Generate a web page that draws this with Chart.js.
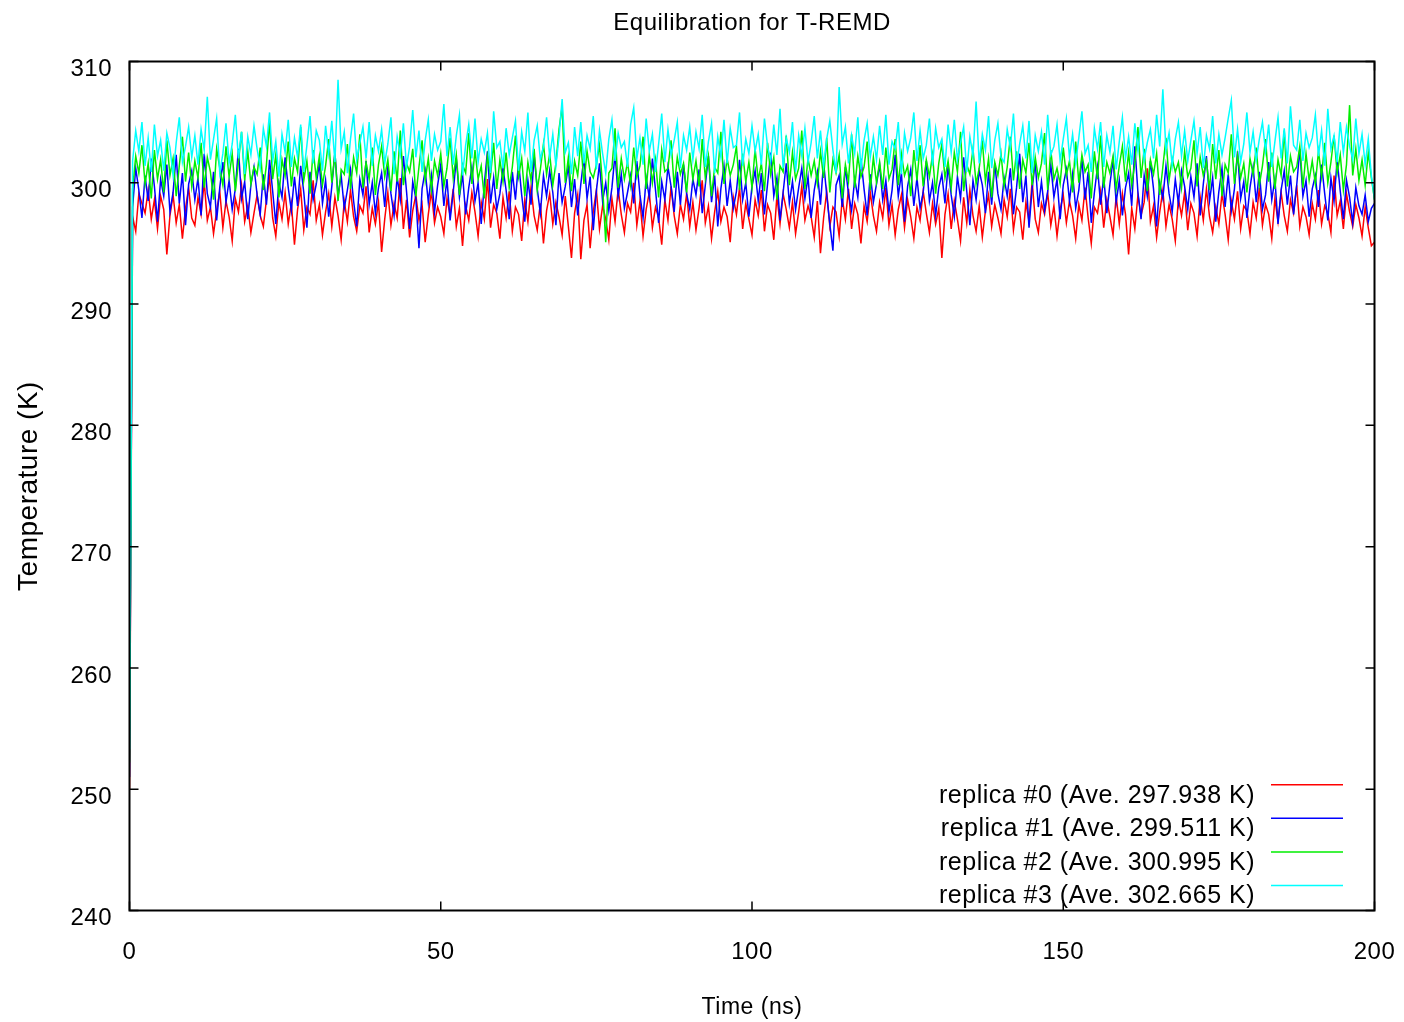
<!DOCTYPE html>
<html>
<head>
<meta charset="utf-8">
<script src="https://cdn.jsdelivr.net/npm/chart.js@4.4.1/dist/chart.umd.min.js"></script>
<style>
html,body{margin:0;padding:0;background:#fff;overflow:hidden;}
#wrap{width:1404px;height:1022px;position:relative;}
</style>
</head>
<body>
<div id="wrap"><canvas id="c"></canvas></div>
<script>
const TIME_STEP_NS = 0.5;
const xTicks = [0, 50, 100, 150, 200];
const yTicks = [240, 250, 260, 270, 280, 290, 300, 310];
const seriesLabels = [
  'replica #0 (Ave. 297.938 K)',
  'replica #1 (Ave. 299.511 K)',
  'replica #2 (Ave. 300.995 K)',
  'replica #3 (Ave. 302.665 K)'
];
const seriesColors = ['#ff0000', '#0000ff', '#00ee00', '#00ffff'];

const replica0 = [250.0,
297.2,296.0,299.1,298.3,297.5,299.4,297.0,298.6,296.2,298.9,297.8,294.1,297.3,299.0,296.7,298.2,295.4,297.9,299.6,297.1,
296.5,298.8,297.4,300.1,296.9,298.0,295.8,297.7,299.3,296.3,298.5,297.2,295.2,298.7,297.6,299.8,296.8,298.1,295.9,297.5,
299.0,297.3,296.4,298.6,300.5,297.1,295.6,298.4,297.0,299.2,296.6,298.3,294.9,297.8,299.5,296.1,298.0,297.4,300.2,296.9,
298.2,295.7,297.6,299.1,296.4,298.8,297.3,295.3,298.5,296.8,299.4,297.2,296.0,298.1,297.5,299.7,295.9,297.9,296.6,298.4,
294.3,297.0,299.2,296.5,298.3,297.1,300.4,296.2,298.6,295.5,297.7,299.0,296.9,298.2,295.1,297.4,299.3,296.7,298.0,297.2,
295.8,298.7,297.3,299.5,296.4,297.9,294.8,298.1,296.9,299.2,297.6,295.6,298.4,297.0,300.3,296.3,298.2,297.5,295.4,298.8,
297.1,299.3,296.0,298.0,297.4,295.2,298.6,296.8,299.6,297.3,296.1,298.3,295.0,297.7,299.1,296.6,298.4,297.2,295.7,298.9,
296.4,293.8,297.5,299.0,293.7,296.9,298.2,294.6,297.6,299.4,296.2,298.1,297.0,295.3,298.7,296.8,299.5,297.4,295.9,298.3,
297.6,300.0,296.5,298.5,295.6,297.8,299.2,296.3,298.0,297.1,294.9,298.6,296.9,299.7,297.3,295.8,298.2,297.0,299.1,296.4,
298.4,296.1,297.9,300.2,296.7,298.1,295.4,297.6,299.3,296.8,298.0,297.2,295.1,298.8,297.4,299.6,296.2,298.3,297.0,295.7,
298.6,297.3,299.4,296.0,298.2,297.5,295.3,298.9,296.6,299.1,297.8,296.3,298.4,295.8,297.6,299.7,296.9,298.1,297.2,295.5,
298.5,294.2,297.1,299.3,296.4,298.0,297.6,295.6,298.7,297.0,299.5,296.2,298.3,297.4,295.0,298.1,296.8,299.2,297.3,296.0,
298.4,297.1,299.6,296.5,298.2,295.7,297.8,299.0,296.3,298.6,297.2,295.4,298.0,296.9,299.3,297.5,295.9,298.3,296.6,297.9,
293.8,297.4,299.1,296.2,298.5,297.0,295.2,298.8,296.7,299.4,297.3,296.0,298.1,295.5,297.7,299.0,296.4,298.2,297.1,295.8,
298.6,297.2,299.5,296.1,298.0,297.6,295.3,298.4,296.8,300.1,297.0,295.9,298.3,297.4,299.2,296.5,298.1,295.6,297.8,299.0,
296.7,298.5,297.3,295.4,298.2,296.9,299.6,297.1,295.0,298.0,297.5,299.3,296.3,298.6,297.2,295.7,298.9,296.6,299.1,297.4,
294.1,297.9,296.2,299.0,297.3,298.4,301.2,296.8,298.1,295.5,297.6,299.4,296.4,298.2,297.0,295.2,298.7,297.3,299.2,296.1,
298.3,297.5,295.6,298.8,296.9,299.5,297.2,295.9,298.0,296.6,299.1,297.4,295.3,298.5,297.0,299.3,296.2,298.1,297.7,295.8,
298.4,297.1,299.6,296.5,298.2,297.4,295.4,298.7,296.8,299.2,297.3,296.0,298.6,297.5,299.8,296.4,298.0,297.2,295.7,298.3,
297.0,299.4,296.6,298.1,297.5,295.9,300.6,297.3,298.5,296.2,299.1,297.6,296.4,298.2,297.1,295.6,298.0,296.3,294.8,295.1];

const replica1 = [251.0,
298.0,301.2,299.4,297.1,300.6,298.5,302.0,299.7,296.8,300.3,298.9,301.5,297.6,299.2,302.3,298.3,300.8,296.5,299.9,301.0,
298.6,300.4,297.3,302.4,299.1,298.0,300.9,296.9,299.6,301.7,298.4,300.2,297.8,299.5,302.8,298.7,300.1,297.0,299.8,301.3,
299.0,297.4,300.7,298.2,301.9,299.3,296.6,300.0,298.8,302.1,299.6,297.7,300.5,298.1,301.4,299.2,296.3,300.9,298.6,299.9,
301.6,298.3,300.2,297.2,299.7,302.5,298.9,300.6,297.9,299.4,301.1,298.5,296.4,300.3,299.0,301.8,298.2,300.0,297.5,299.6,
300.8,298.0,301.4,299.1,297.3,300.5,298.6,302.2,299.3,296.2,300.1,298.7,294.6,299.5,301.0,298.4,300.6,297.6,299.8,301.5,
298.1,300.3,296.9,299.2,302.0,298.8,300.7,297.4,299.6,301.3,298.5,300.0,296.6,299.9,302.6,298.3,300.4,297.8,299.1,301.2,
299.4,297.0,300.9,298.6,301.7,299.0,296.8,300.2,298.2,302.3,299.5,297.5,300.6,298.9,301.0,299.2,296.5,300.8,298.4,299.7,
301.4,298.0,300.3,297.3,299.9,302.1,298.7,300.5,296.1,299.3,301.6,298.5,300.0,297.7,299.6,302.4,298.9,300.7,297.9,299.2,
300.6,298.3,301.8,299.0,297.1,300.4,298.8,302.0,299.4,296.7,300.1,298.6,301.3,299.7,297.6,300.9,298.2,301.5,299.1,297.8,
300.3,299.0,301.1,297.5,299.8,302.2,298.4,300.6,296.4,299.5,301.4,298.1,300.2,297.9,299.3,301.9,298.6,300.0,297.2,299.7,
301.0,298.5,300.8,297.4,299.9,302.5,298.9,300.4,296.9,299.2,301.6,298.3,300.1,297.8,299.6,301.2,298.7,300.5,297.1,299.4,
300.9,298.2,301.7,299.0,296.6,294.4,299.8,300.6,298.0,301.3,299.1,297.7,300.3,298.8,302.0,299.5,297.3,300.7,298.4,299.9,
301.5,298.6,300.2,297.6,299.4,302.3,298.9,300.8,296.8,299.7,301.1,298.1,300.4,297.9,299.2,301.8,298.5,300.0,297.3,299.6,
300.7,298.3,301.4,299.0,297.2,300.5,298.7,302.1,299.3,296.5,300.2,298.6,301.0,299.8,297.5,300.9,298.2,301.6,299.1,297.8,
300.4,298.9,301.2,297.4,299.6,302.4,298.4,300.6,296.3,299.5,301.7,298.0,300.1,297.7,299.3,301.5,298.8,300.3,297.0,299.8,
301.1,298.5,300.7,297.9,299.4,302.0,298.6,300.9,296.7,299.2,301.3,298.2,300.5,297.5,299.9,301.9,298.4,300.2,297.3,299.6,
300.8,298.1,303.0,299.2,297.0,300.6,298.9,301.8,299.5,296.4,300.0,298.7,301.4,299.1,297.6,300.3,298.3,301.0,299.7,297.8,
300.5,298.8,301.6,297.3,299.9,302.2,298.5,300.4,296.8,299.3,301.2,298.0,300.7,297.7,299.5,302.6,298.7,300.1,297.1,299.6,
301.3,298.4,300.9,297.8,299.0,301.7,298.6,300.3,296.6,299.4,301.0,298.2,300.6,297.4,299.8,302.8,298.9,300.2,297.2,299.5,
300.6,298.0,301.5,299.1,296.9,300.4,298.5,301.9,299.3,297.0,300.2,298.8,296.7,299.6,298.1,297.4,299.0,296.8,297.9,298.3];

const replica2 = [252.2,
299.5,302.2,300.8,303.1,299.9,301.6,298.7,302.7,300.3,301.9,299.2,303.5,300.6,302.0,298.9,301.4,303.8,300.1,302.5,299.7,
301.8,300.4,303.3,299.6,302.1,300.9,298.6,302.8,301.2,299.8,303.0,300.5,302.4,299.3,301.7,304.2,300.2,302.6,299.9,301.3,
300.7,302.9,299.4,301.5,305.1,300.3,302.3,298.8,301.9,300.6,303.4,299.7,302.0,300.9,304.6,300.2,301.8,299.1,302.7,300.4,
302.2,299.8,301.4,303.6,300.0,302.5,298.5,301.1,300.7,303.2,299.5,302.1,300.8,304.0,299.6,301.7,300.3,302.9,299.0,301.5,
303.0,300.5,301.9,299.3,302.6,300.1,304.3,299.8,301.6,300.9,302.8,298.9,301.3,303.5,300.2,302.0,299.4,301.8,300.6,302.4,
299.7,301.2,303.7,300.4,302.3,299.0,301.5,300.8,304.1,299.9,302.7,300.3,301.4,298.7,302.2,300.6,303.3,299.5,301.9,300.1,
302.5,299.6,301.3,303.9,300.5,302.0,298.9,301.7,300.2,302.8,299.4,301.1,303.2,300.7,302.4,299.8,301.6,304.4,306.3,300.0,
302.1,299.3,301.8,300.6,303.4,299.9,302.6,300.9,300.4,301.5,303.1,299.7,295.1,300.8,301.2,304.5,299.6,302.0,300.3,301.7,
299.8,302.9,300.5,301.4,303.8,299.5,302.3,300.0,301.9,298.8,302.7,300.9,301.2,303.5,299.6,302.1,300.7,301.6,299.2,302.5,
300.3,301.8,299.7,303.6,300.4,302.2,298.9,301.3,300.8,304.2,299.9,302.0,300.6,301.5,303.0,299.4,302.4,300.1,301.7,299.6,
302.8,300.2,301.6,299.3,303.3,300.7,302.1,298.6,301.4,300.9,303.9,299.8,302.5,300.3,301.2,304.3,299.5,302.0,300.6,301.8,
299.9,302.6,300.4,303.7,299.2,301.9,300.8,302.3,298.7,301.5,300.1,304.0,299.6,302.2,300.5,301.3,303.4,299.4,302.1,300.0,
301.7,299.5,302.9,300.3,301.1,303.6,299.8,302.4,300.6,301.4,298.9,302.7,300.2,303.1,299.7,301.9,300.5,302.3,299.1,301.6,
303.2,300.4,301.8,299.6,302.5,300.9,304.2,299.3,301.5,300.7,302.8,299.9,301.2,303.5,300.1,302.0,298.8,301.7,300.6,302.4,
299.7,301.3,303.8,300.2,302.6,299.5,301.9,300.8,303.3,299.8,302.1,300.4,301.6,304.1,299.4,302.7,300.3,301.2,299.9,302.9,
300.6,301.8,299.2,303.4,300.0,302.3,300.9,301.5,298.7,302.6,300.3,303.9,299.6,301.7,300.8,302.2,299.5,301.4,303.0,300.1,
302.5,299.8,301.6,304.6,300.4,302.8,299.3,301.9,300.7,302.4,299.0,301.3,303.7,300.2,302.0,300.9,301.7,299.6,302.6,300.5,
301.2,303.5,299.7,302.1,300.6,301.8,299.4,303.2,300.3,302.7,298.9,301.5,300.8,304.0,299.9,302.3,300.4,301.6,299.2,302.0,
300.7,302.9,299.8,301.4,303.6,300.1,302.5,299.5,301.9,300.6,304.3,299.7,302.2,300.9,301.3,303.0,299.6,302.4,300.2,301.8,
299.9,302.6,300.5,303.3,300.0,301.7,303.9,300.8,302.3,299.4,301.5,306.4,300.6,302.8,300.2,301.9,299.8,302.5,300.4,298.6];

const replica3 = [253.3,
301.8,304.3,302.6,305.0,301.4,303.7,300.9,304.8,302.2,303.5,301.0,304.1,302.9,300.6,303.3,305.4,301.7,303.0,304.6,302.1,
303.9,301.5,304.4,302.7,307.1,301.9,303.6,305.3,300.8,302.4,304.9,301.6,303.2,305.6,302.0,304.2,300.7,303.8,302.3,304.7,
302.8,301.2,304.5,303.0,305.8,301.8,303.4,300.5,304.0,302.5,305.2,301.3,303.7,302.1,304.8,300.9,303.1,305.5,301.6,304.3,
303.5,301.0,304.7,302.4,305.1,301.7,308.5,302.8,304.2,300.8,303.6,305.7,301.9,303.3,304.6,302.0,305.0,301.4,303.9,302.6,
304.4,301.6,303.2,305.4,300.7,303.8,302.3,304.9,301.3,303.0,306.0,302.1,304.3,300.9,303.5,305.2,301.8,304.0,302.7,303.4,
306.5,302.2,304.6,301.5,303.9,305.6,300.6,303.1,304.8,302.0,305.3,301.7,303.6,302.5,304.1,300.8,305.9,302.9,303.4,301.2,
304.5,302.3,303.7,305.1,301.0,304.2,302.6,305.8,300.9,303.5,304.7,301.9,303.0,305.4,302.1,304.0,301.4,303.8,306.9,302.5,
303.3,300.7,304.6,302.2,305.0,301.6,303.9,302.8,305.5,301.1,304.3,302.4,300.8,303.6,305.2,301.8,304.1,302.9,303.4,301.3,
304.8,306.2,302.0,303.7,301.5,305.3,302.6,304.0,300.9,303.2,305.7,301.7,304.4,302.3,303.5,305.0,301.2,303.9,302.7,304.6,
301.9,304.2,302.8,305.6,301.3,303.4,304.9,300.8,303.8,302.1,305.2,301.6,304.5,302.9,303.1,305.8,301.4,303.6,302.4,304.7,
302.6,304.0,301.5,305.3,303.0,301.8,304.8,302.3,306.1,301.2,303.7,302.5,305.0,300.9,303.9,302.2,304.5,301.7,303.3,305.5,
302.0,304.3,301.4,303.6,305.1,302.7,300.8,307.9,303.2,304.6,301.6,303.9,302.4,305.4,301.1,303.5,304.9,302.1,303.8,301.9,
304.7,302.3,305.6,301.5,303.4,302.8,305.0,300.7,304.1,302.6,303.7,305.8,301.8,304.3,302.0,303.1,305.3,301.4,304.5,302.9,
303.6,301.3,304.8,302.5,305.2,301.9,303.3,304.6,300.9,303.8,302.2,306.7,301.6,304.0,302.7,305.5,301.2,303.5,304.9,302.1,
301.7,304.4,302.9,305.7,301.4,303.2,304.7,302.0,305.1,300.8,303.9,302.6,304.2,301.5,305.6,302.3,303.0,304.8,301.8,303.6,
305.3,302.1,304.0,301.6,303.7,305.9,302.4,303.1,300.9,304.5,302.8,305.0,301.3,303.9,302.5,304.7,301.1,303.4,305.4,302.0,
303.8,301.5,304.9,302.6,305.2,301.9,303.3,304.4,302.0,305.6,303.0,307.7,302.7,304.1,301.4,303.6,305.0,302.2,304.3,301.8,
303.5,305.1,302.4,304.6,301.2,303.9,302.8,305.5,301.6,304.0,302.3,303.7,305.3,306.8,302.1,304.4,301.7,303.2,305.8,302.5,
304.2,301.9,303.6,305.0,302.6,304.8,301.3,303.4,305.4,302.0,304.5,301.6,306.3,303.1,302.7,305.2,301.8,304.1,302.9,303.7,
305.6,302.2,304.3,301.4,306.1,302.8,303.9,301.7,305.0,302.5,304.6,303.0,301.9,305.3,302.4,304.0,301.5,303.6,300.6,298.6];

const seriesValues = [replica0, replica1, replica2, replica3];

// sampling grid of the time axis (ns)
const times = replica0.map((_, i) => i * TIME_STEP_NS);

const FONT = 'Liberation Sans, Arial, Helvetica, sans-serif';

const datasets = seriesValues.map((vals, k) => ({
  label: seriesLabels[k],
  data: vals.map((v, i) => ({x: times[i], y: v})),
  borderColor: seriesColors[k],
  backgroundColor: seriesColors[k],
  borderWidth: 1.5,
  pointRadius: 0,
  tension: 0,
  fill: false,
  order: 3 - k
}));

const spacingPlugin = {
  id: 'spacing',
  beforeUpdate(chart) { chart.ctx.letterSpacing = '0.5px'; },
  beforeDraw(chart) { chart.ctx.letterSpacing = '0.5px'; }
};

const framePlugin = {
  id: 'frame',
  afterDatasetsDraw(chart) {
    const {ctx, chartArea: a, scales} = chart;
    const xs = scales.x, ys = scales.y;
    const L = 9;
    ctx.save();
    ctx.strokeStyle = '#000';
    ctx.lineWidth = 1.5;
    ctx.beginPath();
    xTicks.forEach(v => {
      const px = xs.getPixelForValue(v);
      ctx.moveTo(px, a.bottom); ctx.lineTo(px, a.bottom - L);
      ctx.moveTo(px, a.top); ctx.lineTo(px, a.top + L);
    });
    yTicks.forEach(v => {
      const py = ys.getPixelForValue(v);
      ctx.moveTo(a.left, py); ctx.lineTo(a.left + L, py);
      ctx.moveTo(a.right, py); ctx.lineTo(a.right - L, py);
    });
    ctx.stroke();
    ctx.lineWidth = 2;
    ctx.strokeRect(a.left, a.top, a.right - a.left, a.bottom - a.top);

    // key (legend) in the lower right corner of the plot
    ctx.font = '25px ' + FONT;
    ctx.textAlign = 'right';
    ctx.textBaseline = 'middle';
    ctx.fillStyle = '#000';
    chart.data.datasets.forEach((ds, k) => {
      const ly = a.bottom - 125.8 + k * 33.6;
      ctx.fillText(ds.label, a.right - 119.5, ly + 11);
      ctx.strokeStyle = ds.borderColor;
      ctx.lineWidth = 1.5;
      ctx.beginPath();
      ctx.moveTo(a.right - 103.5, ly);
      ctx.lineTo(a.right - 31.5, ly);
      ctx.stroke();
    });
    ctx.restore();
  }
};

new Chart(document.getElementById('c'), {
  type: 'line',
  data: {datasets},
  plugins: [spacingPlugin, framePlugin],
  options: {
    responsive: true,
    maintainAspectRatio: false,
    animation: false,
    events: [],
    layout: {padding: {left: 0, right: 29.5, top: 0, bottom: 0}},
    plugins: {
      legend: {display: false},
      tooltip: {enabled: false},
      title: {
        display: true,
        text: 'Equilibration for T-REMD',
        fullSize: false,
        color: '#000',
        font: {family: FONT, size: 24, weight: 'normal'},
        padding: {top: 9, bottom: 23.7}
      }
    },
    scales: {
      x: {
        type: 'linear',
        min: 0, max: 200,
        afterBuildTicks(s) { s.ticks = xTicks.map(v => ({value: v})); },
        afterFit(s) { s.height = 111.5; s.paddingLeft = 0; s.paddingRight = 0; },
        grid: {display: false, drawTicks: false},
        border: {display: false},
        ticks: {color: '#000', font: {family: FONT, size: 24}, padding: 27, maxRotation: 0, autoSkip: false},
        title: {display: true, text: 'Time (ns)', color: '#000', font: {family: FONT, size: 23}, padding: {top: 0, bottom: 1}}
      },
      y: {
        type: 'linear',
        min: 240, max: 310,
        afterBuildTicks(s) { s.ticks = yTicks.map(v => ({value: v})); },
        afterFit(s) { s.width = 129.5; s.paddingTop = 0; s.paddingBottom = 0; },
        grid: {display: false, drawTicks: false},
        border: {display: false},
        ticks: {color: '#000', font: {family: FONT, size: 24}, padding: 17.5, labelOffset: 8, autoSkip: false},
        title: {display: true, text: 'Temperature (K)', color: '#000', font: {family: FONT, size: 28}, padding: {top: 12, bottom: 0}}
      }
    }
  }
});
</script>
</body>
</html>
